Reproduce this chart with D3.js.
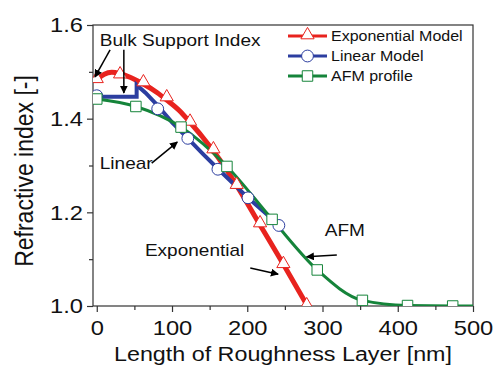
<!DOCTYPE html>
<head>
  <meta charset="utf-8">
  <script src="https://d3js.org/d3.v7.min.js"></script>
  <style>
    body { margin: 0; background: #fff; }
    svg { width: 493px; height: 366px; font-family: "Liberation Sans", Arial, sans-serif; }
  </style>
</head>
<body>
  <svg></svg>
  <script>
    // exponential model (dense line + sparse triangle markers)
    var expX = [0, 10, 20, 31, 45, 62, 80, 93, 110, 124, 140, 155, 170, 186, 217, 248, 280];
    var expY = [1.483, 1.495, 1.499, 1.496, 1.488, 1.474, 1.456, 1.440, 1.417, 1.392, 1.362, 1.331, 1.297, 1.257, 1.173, 1.089, 1.0];
    var expMarkX = [0, 31, 62, 93, 124, 155, 186, 217, 248, 279];
    var expMarkY = [1.483, 1.493, 1.476, 1.444, 1.392, 1.333, 1.257, 1.175, 1.088, 1.0];

    // linear model
    var linX = [0, 53, 53, 65, 81, 100, 121, 141, 161, 181, 201, 221, 243, 248];
    var linY = [1.447, 1.447, 1.472, 1.455, 1.428, 1.392, 1.358, 1.325, 1.293, 1.262, 1.231, 1.203, 1.172, 1.166];
    var linMarkX = [0, 81, 121, 161, 201, 242];
    var linMarkY = [1.449, 1.421, 1.358, 1.292, 1.231, 1.172];

    // AFM profile
    var afmX = [0, 52, 112, 173, 233, 293, 353, 413, 473, 500];
    var afmY = [1.442, 1.426, 1.382, 1.298, 1.185, 1.077, 1.012, 1.001, 1.0, 1.0];

    var xMajor = [0, 100, 200, 300, 400, 500];
    var xMinor = [50, 150, 250, 350, 450];
    var yMajor = [1.0, 1.2, 1.4, 1.6];
    var yMinor = [1.1, 1.3, 1.5];

    var legendNames = ['Exponential Model', 'Linear Model', 'AFM profile'];
    var colors = ['#e8231e', '#2c3ea0', '#15843a'];

    var mLeft = 93, mRight = 473, mTop = 25, mBottom = 306;
    var x = d3.scaleLinear().domain([-5, 500]).range([mLeft, mRight]);
    var y = d3.scaleLinear().domain([1.0, 1.6]).range([mBottom, mTop]);

    var svg = d3.select('svg');

    // the original figure is a bit wider than tall, so stretch text horizontally
    function stretch(sel, sx) {
      sel.attr('transform', function() {
        var tx = +this.getAttribute('x') || 0, ty = +this.getAttribute('y') || 0;
        return 'translate(' + tx + ',' + ty + ')scale(' + sx + ',1)translate(' + (-tx) + ',' + (-ty) + ')';
      });
    }

    svg.append('defs').append('marker')
      .attr('id', 'arrow')
      .attr('viewBox', '0 0 10 10')
      .attr('refX', 9).attr('refY', 5)
      .attr('markerWidth', 8).attr('markerHeight', 8)
      .attr('markerUnits', 'userSpaceOnUse')
      .attr('orient', 'auto')
      .append('path').attr('d', 'M0,0L10,5L0,10z').attr('fill', '#000');
    svg.select('defs').append('clipPath').attr('id', 'plot')
      .append('rect').attr('x', mLeft).attr('y', mTop - 10)
      .attr('width', mRight - mLeft).attr('height', mBottom - mTop + 10);

    // axes
    svg.append('g').attr('transform', 'translate(' + mLeft + ',0)')
      .call(d3.axisLeft(y).tickValues(yMajor).tickSize(6).tickPadding(4).tickFormat(d3.format('.1f')));
    svg.append('g').attr('transform', 'translate(' + mLeft + ',0)')
      .call(d3.axisLeft(y).tickValues(yMinor).tickSize(4).tickFormat(''));
    svg.append('g').attr('transform', 'translate(0,' + mBottom + ')')
      .call(d3.axisBottom(x).tickValues(xMajor).tickSize(6).tickPadding(8));
    svg.append('g').attr('transform', 'translate(0,' + mBottom + ')')
      .call(d3.axisBottom(x).tickValues(xMinor).tickSize(4).tickFormat(''));
    svg.selectAll('.domain').remove();
    svg.selectAll('.tick line').attr('stroke', '#333').attr('stroke-width', 1.2);
    svg.selectAll('.tick text').attr('font-size', 21).attr('fill', '#111')
      .attr('font-family', '"Liberation Sans", Arial, sans-serif')
      .call(stretch, 1.13);

    svg.append('rect')
      .attr('x', mLeft).attr('y', mTop)
      .attr('width', mRight - mLeft).attr('height', mBottom - mTop)
      .attr('fill', 'none').attr('stroke', '#333').attr('stroke-width', 1.2);

    // lines
    var plot = svg.append('g').attr('clip-path', 'url(#plot)');
    function pts(xs, ys) { return xs.map(function(v, i) { return [v, ys[i]]; }); }
    var line = d3.line().x(function(d) { return x(d[0]); }).y(function(d) { return y(d[1]); });

    plot.append('path').datum(pts(expX, expY))
      .attr('d', line.curve(d3.curveMonotoneX))
      .attr('fill', 'none').attr('stroke', colors[0]).attr('stroke-width', 5);
    plot.append('path').datum(pts(linX, linY))
      .attr('d', line.curve(d3.curveLinear))
      .attr('fill', 'none').attr('stroke', colors[1]).attr('stroke-width', 4);
    plot.append('path').datum(pts(afmX, afmY))
      .attr('d', line.curve(d3.curveMonotoneX))
      .attr('fill', 'none').attr('stroke', colors[2]).attr('stroke-width', 3);

    // markers
    var tri = d3.symbol().type(d3.symbolTriangle).size(75);
    var circ = d3.symbol().type(d3.symbolCircle).size(110);
    var sq = d3.symbol().type(d3.symbolSquare).size(110);

    plot.selectAll('path.tri').data(pts(expMarkX, expMarkY)).enter().append('path')
      .attr('class', 'tri').attr('d', tri)
      .attr('transform', function(d) { return 'translate(' + [x(d[0]), y(d[1]) - 1] + ')'; })
      .attr('fill', '#fff').attr('stroke', colors[0]).attr('stroke-width', 1);
    plot.selectAll('path.circ').data(pts(linMarkX, linMarkY)).enter().append('path')
      .attr('class', 'circ').attr('d', circ)
      .attr('transform', function(d) { return 'translate(' + [x(d[0]), y(d[1])] + ')'; })
      .attr('fill', '#fff').attr('stroke', colors[1]).attr('stroke-width', 1);
    plot.selectAll('path.sq').data(pts(afmX.slice(0, 9), afmY.slice(0, 9))).enter().append('path')
      .attr('class', 'sq').attr('d', sq)
      .attr('transform', function(d) { return 'translate(' + [x(d[0]), y(d[1])] + ')'; })
      .attr('fill', '#fff').attr('stroke', colors[2]).attr('stroke-width', 1);

    // legend
    var legendSyms = [tri, circ, sq];
    var lg = svg.selectAll('g.legend').data(legendNames).enter().append('g')
      .attr('class', 'legend')
      .attr('transform', function(d, i) { return 'translate(288,' + (36 + i * 20) + ')'; });
    lg.append('line').attr('x1', 0).attr('x2', 39)
      .attr('stroke', function(d, i) { return colors[i]; }).attr('stroke-width', 3);
    lg.append('path')
      .attr('d', function(d, i) { return legendSyms[i](); })
      .attr('transform', function(d, i) { return 'translate(19.5,' + (i === 0 ? -1 : 0) + ')'; })
      .attr('fill', '#fff').attr('stroke', function(d, i) { return colors[i]; });
    lg.append('text').attr('x', 43).attr('y', 0).attr('dy', '0.35em')
      .attr('font-size', 14.3).attr('fill', '#111').text(function(d) { return d; })
      .call(stretch, 1.12);

    // annotations
    var notes = [
      {t: 'Bulk Support Index', x: 4, y: 1.568},
      {t: 'Linear', x: 4, y: 1.305},
      {t: 'Exponential', x: 64, y: 1.12},
      {t: 'AFM', x: 303, y: 1.162}
    ];
    var arrows = [
      [17.7, 1.547, -2.4, 1.489],
      [36, 1.547, 36, 1.455],
      [73, 1.305, 107, 1.350],
      [204, 1.081, 241, 1.068],
      [319, 1.109, 279, 1.105]
    ];
    svg.selectAll('text.note').data(notes).enter().append('text')
      .attr('class', 'note')
      .attr('x', function(d) { return x(d.x); })
      .attr('y', function(d) { return y(d.y); })
      .attr('dy', '0.35em').attr('font-size', 17).attr('fill', '#111')
      .text(function(d) { return d.t; })
      .call(stretch, 1.12);
    svg.selectAll('line.arrow').data(arrows).enter().append('line')
      .attr('class', 'arrow')
      .attr('x1', function(d) { return x(d[0]); }).attr('y1', function(d) { return y(d[1]); })
      .attr('x2', function(d) { return x(d[2]); }).attr('y2', function(d) { return y(d[3]); })
      .attr('stroke', '#000').attr('stroke-width', 1.5)
      .attr('marker-end', 'url(#arrow)');

    // axis titles
    svg.append('text').attr('x', 283).attr('y', 361)
      .attr('text-anchor', 'middle').attr('font-size', 21).attr('fill', '#111')
      .text('Length of Roughness Layer [nm]')
      .call(stretch, 1.11);
    svg.append('text')
      .attr('transform', 'translate(33,171)scale(1.13,1)rotate(-90)')
      .attr('text-anchor', 'middle').attr('font-size', 23).attr('fill', '#111')
      .text('Refractive index [-]');
  </script>
</body>
